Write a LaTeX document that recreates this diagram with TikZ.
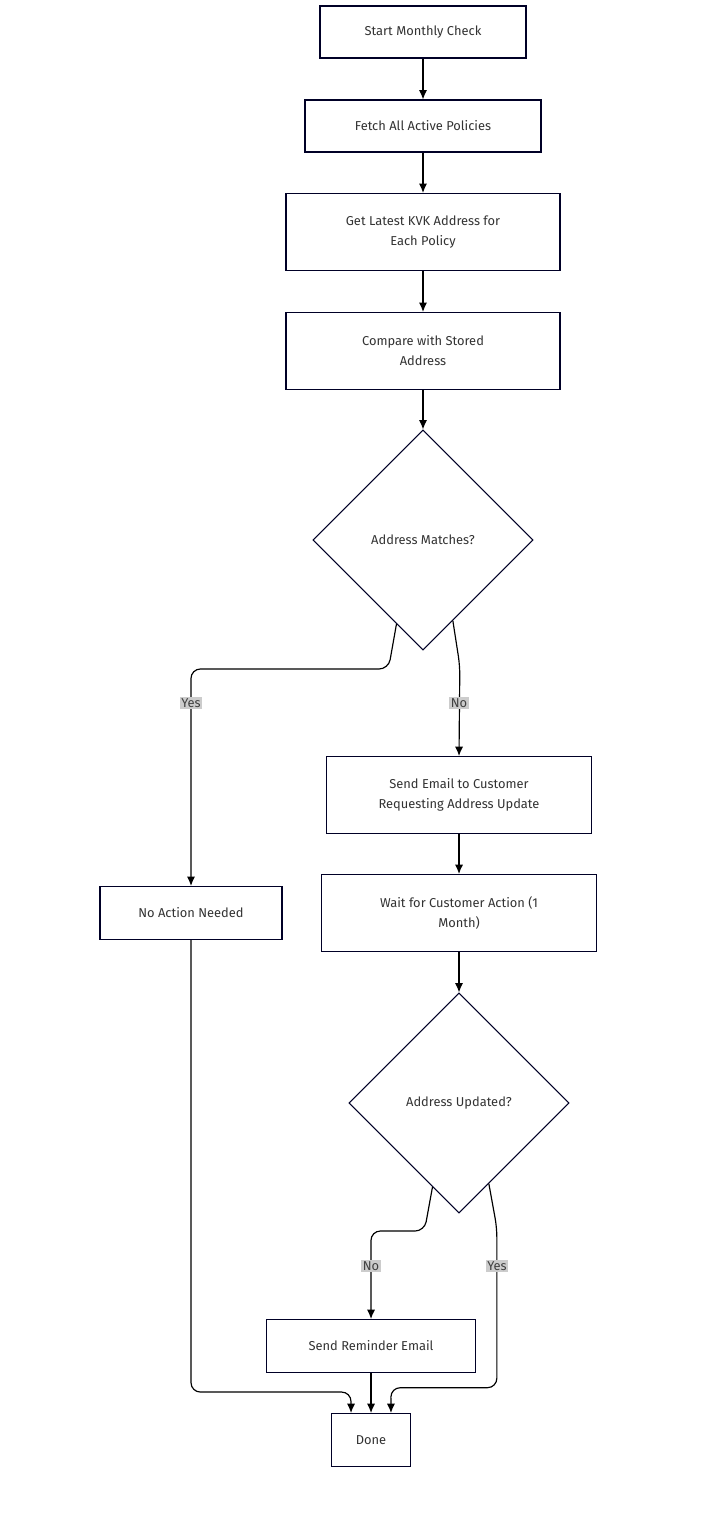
\documentclass[tikz,border=0pt]{standalone}
\usepackage{fontspec}
\setmainfont{Fira Sans}
\usetikzlibrary{shapes.geometric,
                arrows.meta,
                calc,
                positioning}
\tikzset{stage/.style=
   {rectangle,
    draw=black!85!blue,
    line width=0.9pt,
    fill=white,
    align=center,
    font=\fontsize{11}{17}\selectfont\color{black!80},
    minimum height=1.59cm}}
\tikzset{check/.style =
   {diamond,
    draw=black!85!blue,
    line width=0.9pt,
    aspect=1,
    inner sep=0pt,
    font=\fontsize{11}{17}\selectfont\color{black!80},
    minimum size=6.6cm}}
\tikzset{tag/.style =
   {fill=black!20,
    inner sep=1.5pt,
    font=\fontsize{11}{13}\selectfont\color{black!75}}}
\tikzset{arrow/.style = {draw, line width=1pt, rounded corners=8pt, -{Latex[length=8pt,width=7pt]}}}

\begin{document}
\begin{tikzpicture}[x=0.03cm,y=-0.03cm]
    \useasboundingbox (0,0) rectangle (702,1521);

    \node [stage, minimum width=6.18cm, minimum height=1.56cm] (start) at (423,32) {Start Monthly Check};
    \node [stage, minimum width=7.08cm, minimum height=1.56cm] (fetch) at (423,126) {Fetch All Active Policies};
    \node [stage, minimum width=8.22cm, minimum height=2.31cm] (kvk) at (423,232) {Get Latest KVK Address for\\Each Policy};
    \node [stage, minimum width=8.22cm, minimum height=2.31cm] (compare) at (423,351) {Compare with Stored\\Address};
    \node [check] (match) at (423,540) {Address Matches?};
    \node [stage, minimum width=5.46cm] (noact) at (191,913) {No Action Needed};
    \node [stage, minimum width=7.95cm, minimum height=2.31cm] (email) at (459,795) {Send Email to Customer\\Requesting Address Update};
    \node [stage, minimum width=8.25cm, minimum height=2.31cm] (wait) at (459,913) {Wait for Customer Action (1\\Month)};
    \node [check] (updated) at (459,1103) {Address Updated?};
    \node [stage, minimum width=6.27cm] (remind) at (371,1346) {Send Reminder Email};
    \node [stage, minimum width=2.37cm] (done) at (371,1440) {Done};

    % exit points on the lower sides of the diamonds
    \coordinate (matchYes) at ($(match.south)!0.24!(match.west)$);
    \coordinate (matchNo) at ($(match.south)!0.27!(match.east)$);
    \coordinate (updNo) at ($(updated.south)!0.24!(updated.west)$);
    \coordinate (updYes) at ($(updated.south)!0.27!(updated.east)$);

    \draw [arrow] (start) -- (fetch);
    \draw [arrow] (fetch) -- (kvk);
    \draw [arrow] (kvk) -- (compare);
    \draw [arrow] (compare) -- (match);
    \draw [arrow] (matchYes) -- ++(-8,45) -| (noact.north);
    \draw [arrow] (matchNo) -- ++(7,45) -- (email.north);
    \draw [arrow] (email) -- (wait);
    \draw [arrow] (wait) -- (updated);
    \draw [arrow] (updNo) -- ++(-8,44) -| (remind.north);
    \draw [arrow] (updYes) -- ++(8,44) |- ++(-106,160) -- ($(done.north)+(20,0)$);
    \draw [arrow] (remind) -- (done);
    \draw [arrow] (noact.south) |- ++(160,452) -- ($(done.north)+(-20,0)$);

    \node [tag] (yesA) at (191,703) {Yes};
    \node [tag] (noA) at (459,703) {No};
    \node [tag] (noB) at (371,1266) {No};
    \node [tag] (yesB) at (497,1266) {Yes};

\end{tikzpicture}
\end{document}
